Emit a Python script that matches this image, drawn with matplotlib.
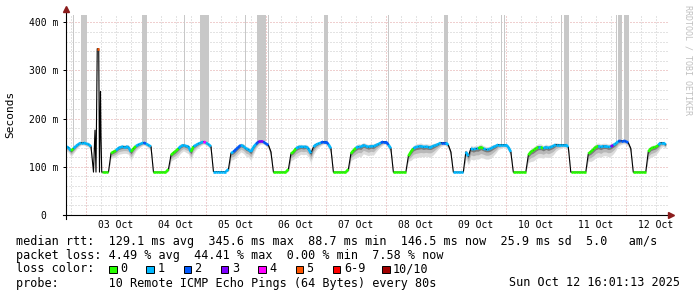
import numpy as np
import matplotlib
matplotlib.use("Agg")
import matplotlib.pyplot as plt
from matplotlib.collections import LineCollection
from matplotlib.patches import Rectangle

W, H = 697, 297
MONO = "DejaVu Sans Mono"

# --- median rtt (ms), one value per hour; hour 0 = 03 Oct 00:00 ---
rtt_oct02 = [142, 140, 133, 138, 143, 147, 150, 150]  # 16:00 - 23:00
rtt_oct03 = [148, 147, 142, 89, None, None, None, 89, 89, 89, 128, 131,
             134, 139, 141, 142, 142, 141, 131, 138, 143, 146, 148, 150]
rtt_oct04 = [148, 145, 142, 89, 89, 89, 89, 89, 89, 95, 124, 129,
             133, 138, 143, 145, 143, 142, 131, 142, 145, 148, 150, 152]
rtt_oct05 = [150, 147, 142, 90, 90, 90, 90, 90, 90, 95, 128, 131,
             136, 141, 145, 143, 138, 136, 131, 141, 147, 152, 153, 152]
rtt_oct06 = [148, 145, 131, 89, 89, 89, 89, 89, 89, 95, 127, 131,
             138, 141, 142, 141, 142, 138, 128, 141, 146, 148, 150, 152]
rtt_oct07 = [152, 147, 138, 89, 89, 89, 89, 89, 89, 95, 127, 134,
             139, 142, 141, 145, 143, 141, 143, 142, 145, 147, 150, 152]
rtt_oct08 = [152, 146, 138, 89, 89, 89, 89, 89, 89, 122, 131, 138,
             141, 142, 143, 141, 142, 141, 141, 143, 145, 147, 150, 150]
rtt_oct09 = [150, 145, 131, 89, 89, 89, 89, 89, 131, 122, 138, 136,
             138, 138, 141, 138, 136, 136, 138, 141, 143, 146, 146, 146]
rtt_oct10 = [146, 141, 131, 89, 89, 89, 89, 89, 89, 124, 131, 134,
             138, 141, 141, 138, 141, 139, 141, 143, 146, 146, 146, 146]
rtt_oct11 = [146, 141, 89, 89, 89, 89, 89, 89, 89, 127, 131, 136,
             141, 143, 141, 143, 143, 141, 142, 145, 148, 153, 154, 154]
rtt_oct12 = [153, 150, 138, 89, 89, 89, 89, 89, 89, 131, 138, 140,
             141, 145, 150, 150, 146]  # 00:00 - 16:00

# lost pings out of 10, per hour
loss_oct02 = [1, 1, 0, 1, 1, 1, 1, 1]
loss_oct03 = [1, 1, 0, 0, 0, 0, 0, 0, 0, 0, 0, 0,
              1, 1, 1, 1, 1, 1, 0, 0, 1, 1, 1, 2]
loss_oct04 = [1, 1, 1, 0, 0, 0, 0, 0, 0, 0, 0, 0,
              0, 1, 1, 1, 1, 1, 0, 1, 1, 1, 1, 4]
loss_oct05 = [1, 1, 1, 1, 1, 1, 1, 1, 1, 1, 1, 2,
              2, 2, 1, 1, 1, 1, 1, 1, 2, 3, 3, 2]
loss_oct06 = [2, 1, 1, 0, 0, 0, 0, 0, 0, 0, 0, 0,
              1, 1, 1, 1, 1, 1, 0, 1, 1, 1, 2, 2]
loss_oct07 = [2, 1, 0, 0, 0, 0, 0, 0, 0, 0, 0, 0,
              1, 1, 1, 1, 1, 1, 1, 1, 1, 1, 2, 2]
loss_oct08 = [2, 1, 1, 0, 0, 0, 0, 0, 0, 0, 0, 1,
              1, 1, 1, 1, 1, 1, 1, 1, 1, 1, 2, 2]
loss_oct09 = [1, 1, 1, 1, 1, 1, 1, 1, 1, 1, 1, 1,
              1, 0, 0, 1, 1, 1, 1, 1, 1, 1, 1, 1]
loss_oct10 = [1, 1, 0, 0, 0, 0, 0, 0, 0, 0, 0, 0,
              0, 1, 0, 1, 1, 1, 1, 1, 1, 1, 1, 1]
loss_oct11 = [1, 1, 0, 0, 0, 0, 0, 0, 0, 0, 0, 0,
              0, 1, 1, 1, 1, 1, 3, 1, 1, 2, 2, 2]
loss_oct12 = [2, 1, 1, 0, 0, 0, 0, 0, 0, 0, 0, 0,
              0, 1, 1, 1, 1]

# smoke depth below the median (ms), per hour
smoke_oct02 = [8, 10, 12, 10, 8, 6, 5, 5]
smoke_oct03 = [5, 6, 10, 0, 0, 0, 0, 0, 0, 0, 10, 12,
               13, 13, 14, 14, 14, 15, 18, 14, 10, 8, 6, 5]
smoke_oct04 = [5, 6, 10, 0, 0, 0, 0, 0, 0, 5, 12, 14,
               15, 15, 14, 12, 13, 15, 18, 14, 10, 8, 6, 5]
smoke_oct05 = [5, 6, 10, 0, 0, 0, 0, 0, 0, 5, 14, 16,
               16, 15, 14, 15, 16, 16, 18, 15, 10, 8, 6, 5]
smoke_oct06 = [5, 8, 12, 0, 0, 0, 0, 0, 0, 5, 14, 16,
               18, 18, 16, 16, 16, 18, 20, 16, 12, 8, 6, 5]
smoke_oct07 = [5, 8, 12, 0, 0, 0, 0, 0, 0, 5, 14, 18,
               20, 20, 20, 18, 18, 18, 18, 18, 14, 10, 8, 6]
smoke_oct08 = [5, 8, 12, 0, 0, 0, 0, 0, 0, 10, 18, 20,
               22, 22, 22, 20, 20, 20, 20, 18, 14, 10, 8, 6]
smoke_oct09 = [6, 8, 10, 0, 0, 0, 0, 0, 15, 18, 22, 22,
               22, 22, 22, 20, 20, 20, 20, 18, 14, 10, 8, 6]
smoke_oct10 = [6, 8, 10, 0, 0, 0, 0, 0, 0, 15, 20, 22,
               22, 22, 22, 20, 20, 20, 20, 18, 14, 10, 8, 6]
smoke_oct11 = [6, 8, 0, 0, 0, 0, 0, 0, 0, 15, 20, 22,
               22, 22, 22, 20, 20, 20, 20, 18, 14, 10, 8, 6]
smoke_oct12 = [6, 8, 10, 0, 0, 0, 0, 0, 0, 15, 18, 18,
               16, 14, 10, 8, 8]

# the spike early on 03 Oct, at finer resolution
spike_hours = [3.6, 4.0, 4.5, 5.1, 5.4, 5.8, 6.0, 6.3]
spike_rtt = [176, 89, 345, 345, 89, 256, 166, 89]
spike_loss = [4, 0, 5, 5, 0, 2, 0, 0]

# grey bars (hours from 03 Oct 00:00, length in hours)
gap_start = [-5.2, -2.1, 22.4, 39.3, 45.6, 63.6, 68.3, 72.9, 95.2, 120.9,
             143.3, 166.0, 167.3, 190.0, 191.2, 212.0, 212.8, 215.2]
gap_len = [0.4, 2.6, 2.2, 0.4, 3.6, 0.4, 3.6, 0.4, 1.5, 0.4,
           1.4, 0.5, 0.4, 0.5, 2.0, 0.4, 1.6, 1.9]

day_labels = ["03 Oct", "04 Oct", "05 Oct", "06 Oct", "07 Oct",
              "08 Oct", "09 Oct", "10 Oct", "11 Oct", "12 Oct"]
y_ticks = [0, 100, 200, 300, 400]
y_labels = ["0  ", "100 m", "200 m", "300 m", "400 m"]

loss_levels = ["0", "1", "2", "3", "4", "5", "6-9", "10/10"]
loss_hex = ["#26ff00", "#00b8ff", "#0059ff", "#7e00ff", "#ff00ff",
            "#ff5500", "#ff0000", "#a10000"]

# --- assemble series ---
rtt_days = [rtt_oct02, rtt_oct03, rtt_oct04, rtt_oct05, rtt_oct06, rtt_oct07,
            rtt_oct08, rtt_oct09, rtt_oct10, rtt_oct11, rtt_oct12]
loss_days = [loss_oct02, loss_oct03, loss_oct04, loss_oct05, loss_oct06,
             loss_oct07, loss_oct08, loss_oct09, loss_oct10, loss_oct11, loss_oct12]
smoke_days = [smoke_oct02, smoke_oct03, smoke_oct04, smoke_oct05, smoke_oct06,
              smoke_oct07, smoke_oct08, smoke_oct09, smoke_oct10, smoke_oct11,
              smoke_oct12]

rtt_h = np.array(sum(rtt_days, []), dtype=float)
loss_h = np.array(sum(loss_days, []))
smoke_h = np.array(sum(smoke_days, []), dtype=float)
hours = np.arange(len(rtt_h)) - 8.0
ok = ~np.isnan(rtt_h)

t = np.concatenate([hours[ok], spike_hours])
rtt = np.concatenate([rtt_h[ok], spike_rtt])
loss = np.concatenate([loss_h[ok], spike_loss])
smoke = np.concatenate([smoke_h[ok], np.zeros(len(spike_hours))])
order = np.argsort(t, kind="stable")
t, rtt, loss, smoke = t[order], rtt[order], loss[order], smoke[order]

# --- figure ---
fig = plt.figure(figsize=(W / 100, H / 100), dpi=100)
ax = fig.add_axes([66 / W, (H - 215) / H, 603 / W, 200 / H])
XMIN, XMAX, YTOP = -8.0, 233.3, 415
ax.set_xlim(XMIN, XMAX)
ax.set_ylim(0, YTOP)
for s in ax.spines.values():
    s.set_visible(False)

# grid
ax.set_xticks(np.arange(0, 217, 24))
ax.set_xticks(np.arange(-6, 232, 6), minor=True)
ax.set_yticks(y_ticks)
ax.set_yticks(np.arange(20, YTOP, 20), minor=True)
ax.grid(which="minor", color="#c8c8c8", lw=0.72, ls=(0, (1, 2)))
ax.grid(which="major", color="#e0a0a0", lw=0.72, ls=(0, (1, 2)))
ax.set_axisbelow(True)
ax.tick_params(axis="x", which="both", length=0, labelbottom=False)
ax.tick_params(axis="y", which="minor", length=0)
ax.tick_params(axis="y", which="major", length=2.2, width=0.72,
               color="black", pad=3.2)
ax.set_yticklabels(y_labels, family=MONO, fontsize=7)

# grey bars down to the median
gs = np.array(gap_start)
gl = np.array(gap_len)
base = np.interp(gs + gl / 2, t, rtt)
ax.bar(gs, YTOP - base, width=gl, bottom=base, align="edge",
       color="#c8c8c8", lw=0, zorder=1)

# smoke
ax.fill_between(t, rtt - smoke, rtt + 0.3 * smoke, color="#dcdcdc", lw=0, zorder=2)
ax.fill_between(t, rtt - 0.6 * smoke, rtt + 0.1 * smoke, color="#b8b8b8", lw=0, zorder=2)
ax.fill_between(t, rtt - 0.25 * smoke, rtt, color="#7a7a7a", lw=0, zorder=2)

# median line, coloured by loss where it is not a steep jump
ax.plot(t, rtt, color="black", lw=0.8, zorder=3)
segs, cols = [], []
for i in range(len(t) - 1):
    if abs(rtt[i + 1] - rtt[i]) < 12:
        segs.append([(t[i], rtt[i]), (t[i + 1], rtt[i + 1])])
        cols.append(loss_hex[loss[i]] if loss[i] < 6 else loss_hex[6])
ax.add_collection(LineCollection(segs, colors=cols, linewidths=1.9,
                                 capstyle="butt", zorder=4))

# axes lines with arrows
arrow_c = "#8b1c1c"
ax.plot([0, 0], [-0.02, 1.025], transform=ax.transAxes, color="black",
        lw=0.8, clip_on=False, zorder=5)
ax.plot([-0.005, 1.0], [0, 0], transform=ax.transAxes, color="black",
        lw=0.8, clip_on=False, zorder=5)
ax.plot([0], [1.03], marker="^", ms=4, color=arrow_c, transform=ax.transAxes,
        clip_on=False, zorder=6)
ax.plot([1.004], [0], marker=">", ms=4, color=arrow_c, transform=ax.transAxes,
        clip_on=False, zorder=6)

# day labels at noon
for i, lab in enumerate(day_labels):
    ax.text(12 + 24 * i, -0.0475, lab, transform=ax.get_xaxis_transform(),
            ha="center", va="center", family=MONO, fontsize=7)

fig.text(10 / W, 1 - 114 / H, "Seconds", rotation=90, ha="center",
         va="center", family=MONO, fontsize=8)
fig.text(688 / W, 1 - 5 / H, "RRDTOOL / TOBI OETIKER", rotation=270,
         ha="center", va="top", family=MONO, fontsize=6, color="#c0c0c0")

# --- legend text ---
fs = 8.5
fig.text(16 / W, 1 - 241 / H,
         "median rtt:  129.1 ms avg  345.6 ms max  88.7 ms min  146.5 ms now  25.9 ms sd  5.0   am/s",
         va="center", family=MONO, fontsize=fs)
fig.text(16 / W, 1 - 255 / H,
         "packet loss: 4.49 % avg  44.41 % max  0.00 % min  7.58 % now",
         va="center", family=MONO, fontsize=fs)
fig.text(16 / W, 1 - 269 / H, "loss color:", va="center", family=MONO, fontsize=fs)
sq_x = [109, 146.3, 183.6, 220.9, 258.2, 295.5, 332.8, 382]
for x, lab, c in zip(sq_x, loss_levels, loss_hex):
    fig.add_artist(Rectangle((x / W, 1 - 273 / H), 7.5 / W, 7.5 / H,
                             transform=fig.transFigure, facecolor=c,
                             edgecolor="black", lw=0.7))
    fig.text((x + 11) / W, 1 - 269 / H, lab, va="center", family=MONO, fontsize=fs)
fig.text(16 / W, 1 - 283 / H,
         "probe:       10 Remote ICMP Echo Pings (64 Bytes) every 80s",
         va="center", family=MONO, fontsize=fs)
fig.text(680 / W, 1 - 283 / H, "Sun Oct 12 16:01:13 2025", ha="right",
         va="center", family=MONO, fontsize=fs)

fig.savefig("out.png", dpi=100)
